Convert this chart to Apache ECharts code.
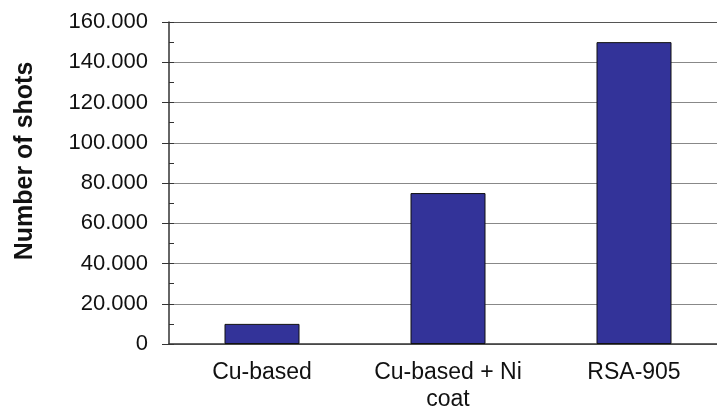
<!DOCTYPE html>
<html><head><meta charset="utf-8">
<script src="https://cdn.jsdelivr.net/npm/echarts@6/dist/echarts.min.js"></script>
<style>html,body{margin:0;padding:0;background:#fff}#c{width:717px;height:408px}</style>
</head><body><div id="c"></div>
<script>
var categories = ['Cu-based', 'Cu-based + Ni\ncoat', 'RSA-905'];
var shots = [10000, 75000, 150000];
var yTickLabels = ['0', '20.000', '40.000', '60.000', '80.000', '100.000', '120.000', '140.000', '160.000'];
var yAxisTitle = 'Number of shots';

var FONT = 'Arial, "Liberation Sans", sans-serif';
var chart = echarts.init(document.getElementById('c'), null, {renderer: 'canvas'});
chart.setOption({
  animation: false,
  grid: {left: 169, top: 22, width: 558, height: 322, containLabel: false, outerBoundsMode: 'none'},
  xAxis: {
    type: 'category',
    data: categories,
    axisLine: {lineStyle: {color: '#333', width: 1.5}},
    axisTick: {length: 7, lineStyle: {color: '#333'}},
    axisLabel: {color: '#111', fontFamily: FONT, fontSize: 23, margin: 15, lineHeight: 27, interval: 0}
  },
  yAxis: [{
    type: 'value', min: 0, max: 160000, interval: 20000,
    axisLine: {show: true, lineStyle: {color: '#333', width: 1.5}},
    axisTick: {show: true, length: 7, lineStyle: {color: '#333'}},
    axisLabel: {color: '#111', fontFamily: FONT, fontSize: 22, margin: 21,
      formatter: function (v) { return yTickLabels[Math.round(v / 20000)]; }},
    splitLine: {show: true, lineStyle: {color: ['#888','#888','#888','#888','#888','#888','#888','#888','#555'], width: 1.2}}
  }, {
    type: 'value', min: 0, max: 160000, interval: 10000, position: 'left',
    axisLine: {show: false},
    axisTick: {show: true, inside: true, length: 5, lineStyle: {color: '#333'}},
    axisLabel: {show: false},
    splitLine: {show: false}
  }],
  graphic: [{
    type: 'text', x: 25, y: 161, rotation: Math.PI / 2,
    style: {text: yAxisTitle, font: 'bold 25px ' + FONT, fill: '#111', textAlign: 'center', textVerticalAlign: 'middle'}
  }],
  series: [{
    type: 'bar', data: shots, barWidth: 75, yAxisIndex: 0,
    itemStyle: {color: '#333399', borderColor: '#111', borderWidth: 1}
  }]
});
</script></body></html>
